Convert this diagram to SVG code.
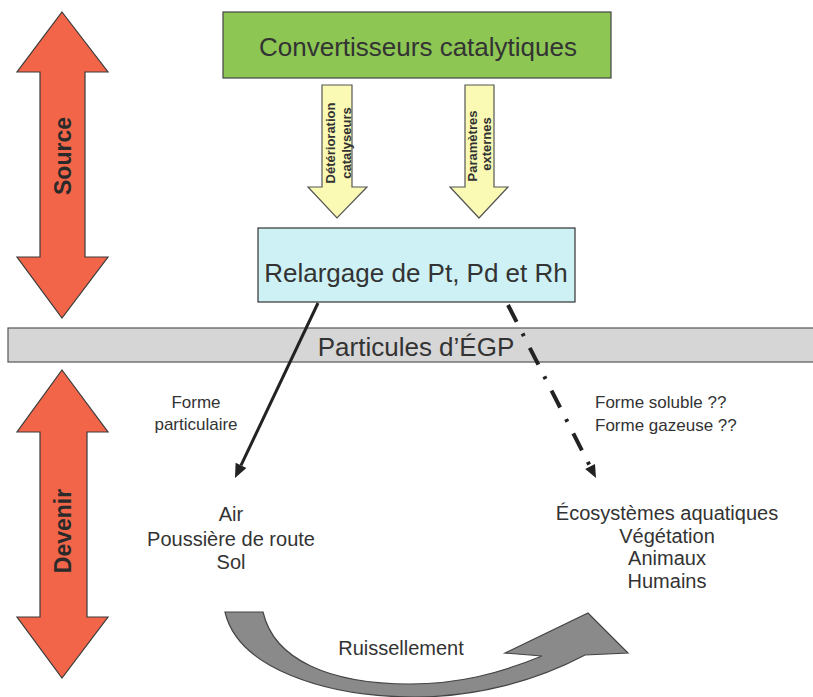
<svg xmlns="http://www.w3.org/2000/svg" width="813" height="697" viewBox="0 0 813 697">
<style>
text{font-family:"Liberation Sans",Arial,sans-serif;fill:#333}
.big{font-size:26px}
.mid{font-size:20px}
.sm{font-size:17px}
.vert{font-size:13px;font-weight:bold;fill:#333}
.side{font-size:23px;font-weight:bold;fill:#2a2a2a}
.red{fill:#f26549;stroke:#3a3a3a;stroke-width:1.2}
.yel{fill:#fafab4;stroke:#555;stroke-width:1.2}
</style>
<rect width="813" height="697" fill="#fff"/>
<g id="source">
<polygon class="red" points="62,12 108,72 85,72 85,257 108,257 62,318 17,257 40,257 40,72 17,72"/>
<text class="side" text-anchor="middle" transform="translate(71,156) rotate(-90)">Source</text>
</g>
<g id="devenir">
<polygon class="red" points="62,370 108,432 87,432 87,617 108,617 62,678 17,617 40,617 40,432 17,432"/>
<text class="side" text-anchor="middle" transform="translate(71,531) rotate(-90)">Devenir</text>
</g>
<g id="convertisseurs">
<rect x="223" y="12" width="388" height="66" fill="#8dc653" stroke="#444" stroke-width="1.2"/>
<text class="big" x="418" y="56" text-anchor="middle">Convertisseurs catalytiques</text>
</g>
<g id="deterioration">
<polygon class="yel" points="322,85 352,85 352,187 367,187 337,218 308,187 322,187"/>
<text class="vert" text-anchor="middle" transform="translate(335,143) rotate(-90)">Détérioration</text>
<text class="vert" text-anchor="middle" transform="translate(351,143) rotate(-90)">catalyseurs</text>
</g>
<g id="parametres">
<polygon class="yel" points="465,85 494,85 494,187 508,187 479,218 450,187 465,187"/>
<text class="vert" text-anchor="middle" transform="translate(477,146) rotate(-90)">Paramètres</text>
<text class="vert" text-anchor="middle" transform="translate(491,144) rotate(-90)">externes</text>
</g>
<g id="relargage">
<rect x="258" y="228" width="317" height="74" fill="#cdf1f5" stroke="#333" stroke-width="1.2"/>
<text class="big" x="416" y="282" text-anchor="middle">Relargage de Pt, Pd et Rh</text>
</g>
<g id="particules">
<rect x="8" y="328" width="820" height="34" fill="#d6d6d6" stroke="#555" stroke-width="1.2"/>
<text class="big" x="416" y="356" text-anchor="middle">Particules d’ÉGP</text>
</g>
<g id="connectors">
<line x1="318" y1="303" x2="241" y2="465.4" stroke="#222" stroke-width="3"/>
<polygon points="235,478 246.4,467.9 235.6,462.8" fill="#222"/>
<line x1="508" y1="305" x2="590.1" y2="466.4" stroke="#222" stroke-width="4" stroke-dasharray="19 13 3 13"/>
<polygon points="596,478 595,463.9 585.2,468.9" fill="#222"/>
<path d="M225,612 C238,668 325,697 415,697 C478,697 538,680 585,655 L628,653 L588,613 L505,653 L542,656 C498,674 458,684 410,684 C330,684 274,660 263,612 Z" fill="#8a8a8a" stroke="#444" stroke-width="1.2"/>
</g>
<g id="labels">
<text class="sm" x="196" y="408" text-anchor="middle">Forme</text>
<text class="sm" x="196" y="430" text-anchor="middle">particulaire</text>
<text class="sm" x="595" y="408">Forme soluble ??</text>
<text class="sm" x="595" y="431">Forme gazeuse ??</text>
<text class="mid" x="401" y="655" text-anchor="middle">Ruissellement</text>
</g>
<g id="air">
<text class="mid" x="231" y="521" text-anchor="middle">Air</text>
<text class="mid" x="231" y="546" text-anchor="middle">Poussière de route</text>
<text class="mid" x="231" y="569" text-anchor="middle">Sol</text>
</g>
<g id="ecosystemes">
<text class="mid" x="667" y="520" text-anchor="middle">Écosystèmes aquatiques</text>
<text class="mid" x="667" y="543" text-anchor="middle">Végétation</text>
<text class="mid" x="667" y="565" text-anchor="middle">Animaux</text>
<text class="mid" x="667" y="588" text-anchor="middle">Humains</text>
</g>
</svg>
